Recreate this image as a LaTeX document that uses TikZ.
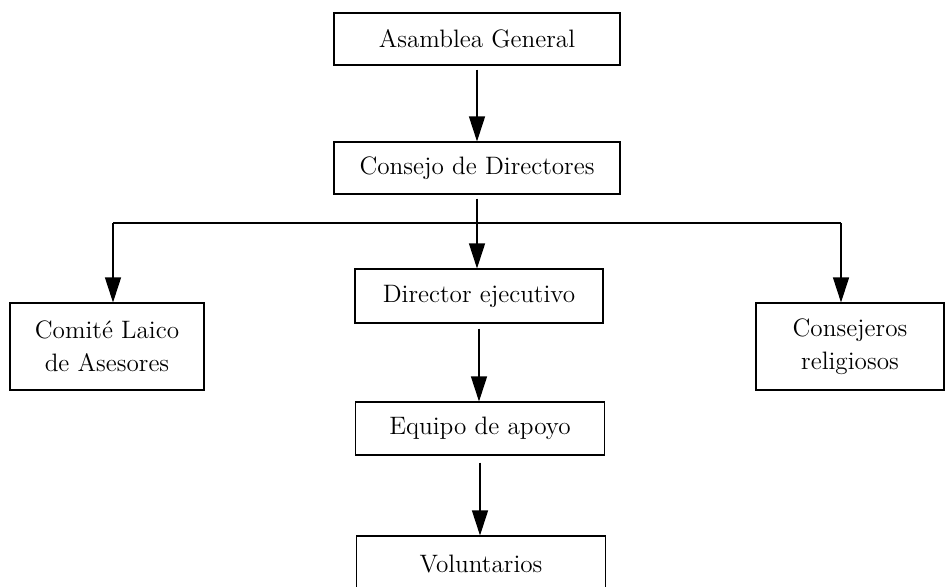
\documentclass[tikz,border=0pt]{standalone}
\usepackage{tikz}
\usetikzlibrary{arrows.meta}

\tikzset{
    caja/.style={draw, line width=0.55pt, align=center, inner sep=0pt,
        font=\fontsize{12.6}{16.5}\selectfont},
    flecha/.style={draw, line width=0.55pt, -{Triangle[length=12.5pt,width=8pt]}}
}

\begin{document}
\begin{tikzpicture}[x=0.5pt, y=-0.5pt]
                \useasboundingbox (0,0) rectangle (945,586);
                \node[caja, minimum width=143pt, minimum height=26pt] (asamblea) at (477,39) {Asamblea General};
                \node[caja, minimum width=143pt, minimum height=26pt] (consejo) at (477,168) {Consejo de Directores};
                \node[caja, minimum width=124pt, minimum height=27pt] (director) at (479,296) {Director ejecutivo};
                \node[caja, minimum width=124.5pt, minimum height=26.5pt] (equipo) at (480,428.5) {Equipo de apoyo};
                \node[caja, minimum width=124.5pt, minimum height=27.5pt] (voluntarios) at (481,563.5) {Voluntarios};
                \node[caja, minimum width=97pt, minimum height=43.5pt] (comite) at (107,346.5) {Comité Laico\\de Asesores};
                \node[caja, minimum width=94pt, minimum height=43.5pt] (religiosos) at (850,346.5) {Consejeros\\religiosos};
                % ramas laterales
                \coordinate (izq) at (113,223);
                \coordinate (der) at (841,223);
                \draw[line width=0.55pt] (izq) -- (der);
                \draw[flecha] (izq) -- (izq |- comite.north);
                \draw[flecha] (der) -- (der |- religiosos.north);
                % columna central
                \draw[flecha, shorten <=2pt] (asamblea.south) -- (consejo.north);
                \draw[flecha, shorten <=2pt] (consejo.south) -- (consejo.south |- director.north);
                \draw[flecha, shorten <=2.5pt] (director.south) -- (director.south |- equipo.north);
                \draw[flecha, shorten <=3.5pt] (equipo.south) -- (equipo.south |- voluntarios.north);
            \end{tikzpicture}
\end{document}
